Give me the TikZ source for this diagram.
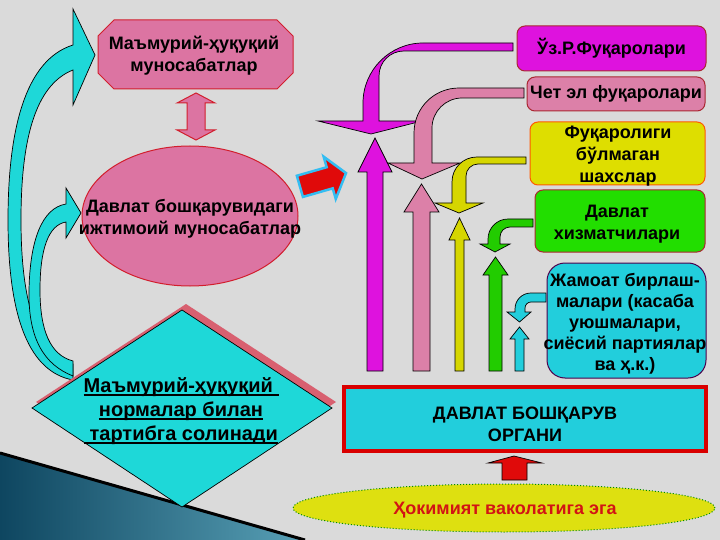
\documentclass[tikz,border=0pt]{standalone}
\usepackage{fontspec}
\setmainfont{Liberation Sans}
\usetikzlibrary{shapes.geometric,shadings}
\definecolor{bg}{RGB}{218,218,218}
\definecolor{pinkc}{RGB}{220,116,162}
\definecolor{pinkarr}{RGB}{220,128,168}
\definecolor{redb}{RGB}{210,30,45}
\definecolor{darkred}{RGB}{170,40,50}
\definecolor{magc}{RGB}{222,18,222}
\definecolor{yelc}{RGB}{222,222,0}
\definecolor{yelarr}{RGB}{214,214,0}
\definecolor{grnc}{RGB}{34,222,0}
\definecolor{grnarr}{RGB}{34,204,0}
\definecolor{cyanc}{RGB}{34,206,220}
\definecolor{cyand}{RGB}{30,216,216}
\definecolor{shad}{RGB}{216,96,112}
\definecolor{redarr}{RGB}{224,10,10}
\definecolor{tealdark}{RGB}{14,70,96}
\definecolor{teallight}{RGB}{88,160,182}
\definecolor{ellyel}{RGB}{222,224,16}
\definecolor{txtred}{RGB}{210,20,20}
\newcommand\ulx[1]{\setbox0\hbox{#1}\rlap{\rule[-3.5pt]{\wd0}{1.6pt}}\box0}
\newcommand\uparr[8]{%
  \draw[arr,fill=#1] (#2,371) -- (#2,#6) -- (#4,#6) -- ({(#4+#5)/2},#7) -- (#5,#6) -- (#3,#6) -- (#3,371) -- cycle;}
\tikzset{
  arr/.style={draw=black, line width=0.7pt, line join=miter},
  tbox/.style={rounded corners=8pt, draw=darkred, line width=1pt, align=center, inner sep=0pt,
    font=\fontsize{18}{22}\selectfont\bfseries},
  ttext/.style={align=center, inner sep=0pt, font=\fontsize{18}{22}\selectfont\bfseries},
}
\begin{document}
\begin{tikzpicture}[x=1pt,y=-1pt]
\useasboundingbox (0,0) rectangle (720,540);
\fill[bg] (0,0) rectangle (720,540);
% bottom-left wedge
\shade[left color=tealdark, right color=teallight] (0,453) -- (305,540) -- (0,540) -- cycle;
\draw[line width=3pt, black] (0,453) -- (305,540);

% left cyan curved arrows
\draw[arr,fill=cyand] (73,45) .. controls (25,60) and (8,130) .. (8,220)
  .. controls (8,320) and (30,372) .. (73,380) -- (73,364)
  .. controls (40,355) and (21,310) .. (21,220)
  .. controls (21,140) and (35,85) .. (73,70) -- (73,105) -- (95,55) -- (73,9) -- cycle;
\draw[arr,fill=cyand] (66,204) .. controls (42,208) and (30,240) .. (29,290)
  .. controls (28,340) and (45,365) .. (73,376) -- (73,361)
  .. controls (50,355) and (40,330) .. (40,290)
  .. controls (40,250) and (48,225) .. (66,222) -- (66,238) -- (81,213) -- (66,188) -- cycle;

% octagon
\draw[fill=pinkc, draw=redb, line width=1pt] (114,20) -- (277,20) -- (293,36) -- (293,73) -- (277,89) -- (114,89) -- (98,73) -- (98,36) -- cycle;
\node[ttext] (oct) at (194,56) {Маъмурий-ҳуқуқий\\муносабатлар};

% double arrow
\draw[fill=pinkc, draw=redb, line width=1pt] (196,93) -- (215,103) -- (205,103) -- (205,130) -- (215,130) -- (196,140) -- (177,130) -- (187,130) -- (187,103) -- (177,103) -- cycle;

% ellipse
\node[ellipse, draw=redb, line width=1pt, fill=pinkc, minimum width=216pt, minimum height=140pt, inner sep=0pt] (soc) at (190,216) {};
\node[ttext] (soctxt) at (190,219) {Давлат бошқарувидаги\\ижтимоий муносабатлар};

% diamond
\fill[shad] (186,304) -- (336,402) -- (186,501) -- (36,402) -- cycle;
\draw[fill=cyand, draw=black, line width=0.7pt] (182,310) -- (332,408) -- (182,507) -- (32,408) -- cycle;
\node[align=center, inner sep=0pt, font=\fontsize{20}{24}\selectfont\bfseries] (norm) at (181,411)
  {\ulx{Маъмурий-ҳуқуқий\ }\\\ulx{нормалар билан}\\\ulx{\ тартибга солинади}};

% red arrow
\begin{scope}[shift={(322,180)}, rotate=16]
\draw[cyan!80, line width=2.5pt, fill=redarr] (-23,-11) -- (8,-11) -- (8,-22) -- (25,0) -- (8,22) -- (8,11) -- (-23,11) -- cycle;
\end{scope}

% bent arrows
\draw[arr,fill=magc] (513,43) -- (423,43) .. controls (390,43) and (363,70) .. (363,103) -- (363,121) -- (318,121) -- (371,134) -- (422,121) -- (379,121) -- (379,76) .. controls (379,62) and (390,51) .. (404,51) -- (513,51) -- cycle;
\uparr{magc}{367}{383}{358}{392}{172}{138}{}
\draw[arr,fill=pinkarr] (524,88) -- (459,88) .. controls (434,88) and (414,108) .. (414,133) -- (414,163) -- (388,163) -- (422,179) -- (460,163) -- (432,163) -- (432,128) .. controls (432,111.5) and (445.5,98) .. (462,98) -- (524,98) -- cycle;
\uparr{pinkarr}{413}{430}{404}{439}{212}{184}{}
\draw[arr,fill=yelarr] (526,157) -- (477,157) .. controls (463,157) and (452,168) .. (452,182) -- (452,203) -- (435,203) -- (459,213) -- (483,203) -- (466,203) -- (466,176) .. controls (466,169.4) and (471.4,164) .. (478,164) -- (526,164) -- cycle;
\uparr{yelarr}{455}{464}{449}{470}{240}{218}{}
\draw[arr,fill=grnarr] (533,219) -- (508,219) .. controls (497,219) and (488,228) .. (488,239) -- (488,244) -- (480,244) -- (495,252) -- (510,244) -- (500,244) -- (500,237) .. controls (500,231.5) and (504.5,227) .. (510,227) -- (533,227) -- cycle;
\uparr{grnarr}{489}{502}{483}{508}{275}{257}{}
\draw[arr,fill=cyanc] (546,293) -- (531,293) .. controls (522,293) and (515,300) .. (515,309) -- (515,312) -- (507,312) -- (519.5,322) -- (531,312) -- (525,312) -- (525,308) .. controls (525,304.7) and (527.7,302) .. (531,302) -- (546,302) -- cycle;
\uparr{cyanc}{515}{524}{510}{529}{339}{327}{}

% right boxes
\node[tbox, fill=magc, minimum width=189pt, minimum height=45pt] (uz) at (611.5,48.5) {Ўз.Р.Фуқаролари};
\node[tbox, fill=pinkarr, minimum width=178pt, minimum height=34pt] (chet) at (616,94) {Чет эл фуқаролари};
\node[tbox, fill=yelc, draw=orange!70!red, minimum width=175pt, minimum height=63pt] (fuq) at (617.5,153.5) {};
\node[ttext] (fuqtxt) at (618,156) {Фуқаролиги\\бўлмаган\\шахслар};
\node[tbox, fill=grnc, minimum width=170pt, minimum height=62pt] (dav) at (620,221) {};
\node[ttext] (davtxt) at (617,224) {Давлат\\хизматчилари};
\node[tbox, rounded corners=18pt, draw=violet!60!black, fill=cyanc, minimum width=159pt, minimum height=115pt] (jam) at (626.5,320.5) {};
\node[ttext, font=\fontsize{18}{21}\selectfont\bfseries] (jamtxt) at (625,324) {Жамоат бирлаш-\\малари (касаба\\уюшмалари,\\сиёсий партиялар\\ва ҳ.к.)};

% bottom box
\node[draw=red!85!black, line width=4pt, fill=cyanc, minimum width=362pt, minimum height=64pt, inner sep=0pt] (organ) at (525,419) {};
\node[ttext] (orgtxt) at (525,424) {ДАВЛАТ БОШҚАРУВ\\ОРГАНИ};

% red up arrow
\draw[arr, fill=redarr] (502,480) -- (502,463) -- (488,463) -- (514,456) -- (542,463) -- (527,463) -- (527,480) -- cycle;

% yellow ellipse
\node[ellipse, fill=ellyel, draw=green!55!black, dotted, line width=1pt, minimum width=422pt, minimum height=48pt, inner sep=0pt] (hok) at (504,508) {};
\node[ttext, text=txtred] (hoktxt) at (505,510) {Ҳокимият ваколатига эга};
\end{tikzpicture}
\end{document}
